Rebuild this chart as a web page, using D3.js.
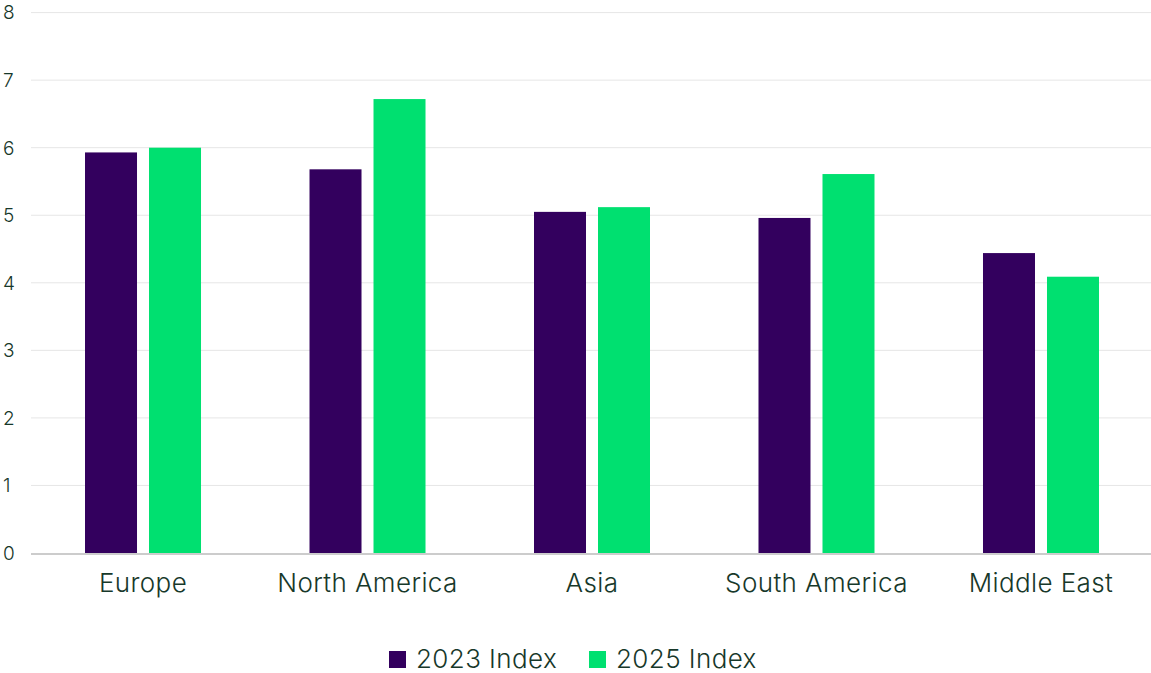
<!DOCTYPE html>
<html>
<head>
<meta charset="utf-8">
<script src="https://cdn.jsdelivr.net/npm/d3@7"></script>
<style>
  body { margin: 0; background: #fff; }
  text { font-family: Inter, "Noto Sans", sans-serif; font-weight: 300; fill: #17382a; }
</style>
</head>
<body>
<div id="chart"></div>
<script>
var regions = ["Europe", "North America", "Asia", "South America", "Middle East"];
var seriesNames = ["2023 Index", "2025 Index"];
var index2023 = [5.93, 5.68, 5.05, 4.96, 4.44];
var index2025 = [6.0, 6.72, 5.12, 5.61, 4.09];
var yTicks = [0, 1, 2, 3, 4, 5, 6, 7, 8];
var colors = ["#33005e", "#00e070"];

var width = 1151, height = 673;

var svg = d3.select("#chart")
  .append("svg")
  .attr("width", width)
  .attr("height", height);

var data = regions.map(function (r, i) {
  return { region: r, values: [index2023[i], index2025[i]] };
});

var x0 = d3.scaleBand()
  .domain(regions)
  .range([30.75, 1153.25])
  .paddingInner(0.4833)
  .paddingOuter(0.2417);

var x1 = d3.scaleBand()
  .domain(seriesNames)
  .range([0, 116])
  .paddingInner(0.1875);

var y = d3.scaleLinear()
  .domain([0, 8])
  .range([553, 12.6]);

// gridlines
svg.append("g")
  .selectAll("line")
  .data(yTicks.filter(d => d > 0))
  .join("line")
  .attr("x1", 31)
  .attr("x2", width)
  .attr("y1", d => y(d))
  .attr("y2", d => y(d))
  .attr("stroke", "#e6e6e6")
  .attr("stroke-width", 1);

// y labels
svg.append("g")
  .selectAll("text")
  .data(yTicks)
  .join("text")
  .attr("x", 3)
  .attr("y", d => y(d))
  .attr("dy", "0.36em")
  .attr("font-size", 19)
  .text(d => d);

// bars
var groups = svg.append("g")
  .selectAll("g")
  .data(data)
  .join("g")
  .attr("transform", d => "translate(" + x0(d.region) + ",0)");

groups.selectAll("rect")
  .data(d => d.values.map((v, i) => ({ key: seriesNames[i], value: v, i: i })))
  .join("rect")
  .attr("x", d => x1(d.key))
  .attr("width", x1.bandwidth())
  .attr("y", d => y(d.value))
  .attr("height", d => y(0) - y(d.value))
  .attr("fill", d => colors[d.i]);

// baseline
svg.append("line")
  .attr("x1", 31)
  .attr("x2", width)
  .attr("y1", y(0) + 1)
  .attr("y2", y(0) + 1)
  .attr("stroke", "#cccccc")
  .attr("stroke-width", 2);

// x labels
svg.append("g")
  .selectAll("text")
  .data(regions)
  .join("text")
  .attr("x", d => x0(d) + x0.bandwidth() / 2)
  .attr("y", 592)
  .attr("text-anchor", "middle")
  .attr("font-size", 26)
  .attr("letter-spacing", 0.4)
  .text(d => d);

// legend
var legendX = [389, 589];
var legend = svg.append("g")
  .selectAll("g")
  .data(seriesNames)
  .join("g")
  .attr("transform", (d, i) => "translate(" + legendX[i] + ",651)");

legend.append("rect")
  .attr("width", 17)
  .attr("height", 17)
  .attr("fill", (d, i) => colors[i]);

legend.append("text")
  .attr("x", 27)
  .attr("y", 16.5)
  .attr("font-size", 26)
  .attr("letter-spacing", 0.4)
  .text(d => d);
</script>
</body>
</html>
